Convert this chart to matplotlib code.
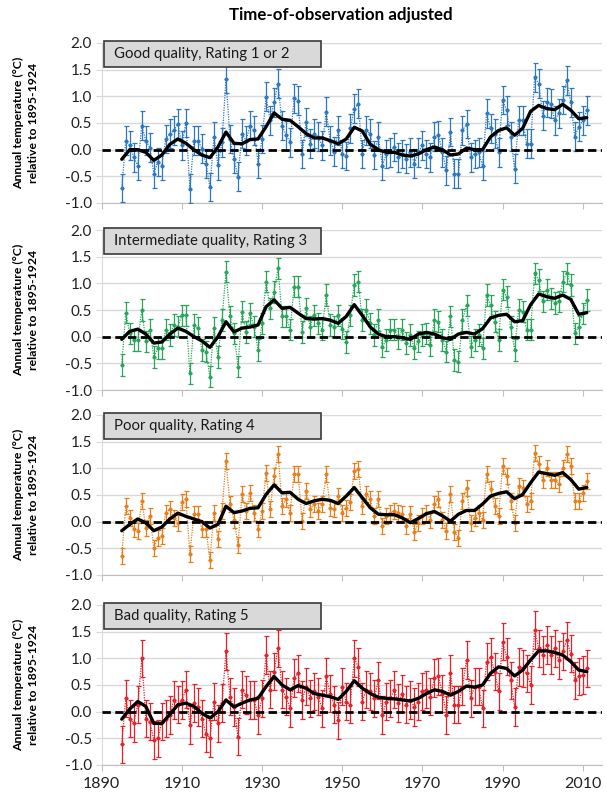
import matplotlib
matplotlib.use('Agg')
import matplotlib.pyplot as plt
from matplotlib.patches import Rectangle

plt.rcParams['font.family'] = ['Lato', 'DejaVu Sans']

years = list(range(1895, 2012))
smooth_years = list(range(1895, 2012, 2))
x_ticks = [1890, 1910, 1930, 1950, 1970, 1990, 2010]
y_ticks = [-1.0, -0.5, 0.0, 0.5, 1.0, 1.5, 2.0]

good = [-0.72, 0.17, 0.08, -0.14, -0.30,
        0.45, 0.17, 0.04, -0.45, -0.23, -0.30, 0.20, 0.30, 0.36, 0.49,
        0.08, 0.50, -0.73, 0.17, 0.17, 0.02, -0.26, -0.70, 0.24, -0.29,
        0.14, 1.33, 0.20, -0.17, -0.51, 0.30, 0.17, 0.45, 0.36, -0.26,
        0.20, 0.99, 0.55, 0.89, 1.24, 0.45, 0.27, 0.14, 0.96, 0.92,
        -0.08, 0.52, 0.11, 0.30, 0.24, 0.08, 0.71, 0.17, -0.04, 0.36,
        -0.08, -0.12, 0.40, 0.77, 0.86, -0.08, 0.36, 0.30, -0.10, 0.24,
        -0.30, -0.08, -0.05, 0.05, -0.14, -0.08, -0.17, -0.05, -0.26, -0.05,
        0.08, -0.08, -0.14, 0.24, 0.27, -0.05, -0.39, 0.33, -0.45, -0.45,
        0.36, 0.48, -0.14, -0.08, -0.05, -0.30, 0.68, 0.40, 0.30, -0.05,
        0.93, 0.74, 0.24, -0.36, 0.55, 0.55, 0.11, 0.11, 1.36, 1.24,
        0.64, 0.89, 0.86, 0.55, 0.68, 0.93, 1.30, 0.89, 0.24, 0.43,
        0.55, 0.74]
good_smooth = [-0.18, 0.0, 0.0,
               -0.05, -0.2, -0.1, 0.1, 0.2,
               0.12, 0.0, -0.1, -0.15, 0.05,
               0.33, 0.12, 0.11, 0.19, 0.2,
               0.43, 0.69, 0.57, 0.55, 0.43,
               0.3, 0.22, 0.22, 0.17, 0.11,
               0.2, 0.42, 0.35, 0.1, 0.0,
               -0.05, -0.05, -0.1, -0.12, -0.08,
               0.0, 0.05, 0.0, -0.1, -0.08,
               0.03, 0.0, 0.0, 0.24, 0.36,
               0.41, 0.27, 0.4, 0.72, 0.83,
               0.77, 0.75, 0.85, 0.74, 0.58,
               0.6]
good_err = 0.27

inter = [-0.53, 0.45, 0.06, -0.06, -0.06,
         0.50, -0.09, 0.13, -0.38, -0.22, -0.22, 0.13, 0.03, 0.22, 0.19,
         0.40, 0.40, -0.69, 0.22, 0.16, -0.25, -0.28, -0.75, 0.16, -0.38,
         0.31, 1.22, 0.38, 0.06, -0.56, 0.47, 0.09, 0.44, 0.19, -0.25,
         0.25, 1.03, 0.53, 0.84, 1.28, 0.38, 0.38, 0.13, 0.94, 0.94,
         0.09, 0.53, 0.19, 0.40, 0.25, 0.13, 0.78, 0.22, 0.19, 0.40,
         0.15, -0.10, 0.40, 0.97, 1.03, 0.31, 0.50, 0.25, 0.03, 0.31,
         -0.19, -0.06, 0.13, 0.13, -0.03, 0.13, -0.12, 0.03, -0.22, -0.09,
         0.03, 0.06, -0.16, 0.31, 0.28, -0.06, -0.28, 0.38, -0.44, -0.47,
         0.31, 0.59, -0.19, -0.06, 0.03, -0.22, 0.78, 0.59, 0.28, -0.06,
         0.88, 0.75, 0.19, -0.25, 0.50, 0.47, 0.13, 0.13, 1.19, 1.06,
         0.66, 0.88, 0.72, 0.63, 0.66, 1.03, 1.19, 0.97, 0.06, 0.19,
         0.44, 0.69]
inter_smooth = [-0.05, 0.1, 0.14,
                0.05, -0.12, -0.1, 0.05, 0.16,
                0.1, 0.0, -0.08, -0.2, 0.0,
                0.28, 0.09, 0.16, 0.18, 0.22,
                0.56, 0.69, 0.53, 0.55, 0.44,
                0.34, 0.33, 0.34, 0.31, 0.25,
                0.38, 0.6, 0.4, 0.18, 0.05,
                0.0, 0.0, -0.02, -0.05, 0.05,
                0.08, 0.05, -0.02, -0.05, 0.05,
                0.08, 0.05, 0.15, 0.35, 0.4,
                0.42, 0.28, 0.3, 0.6, 0.8,
                0.75, 0.72, 0.78, 0.7, 0.42,
                0.45]
inter_err = 0.2

poor = [-0.64, 0.29, 0.07, -0.14, -0.18,
        0.39, -0.11, 0.11, -0.49, -0.30, -0.27, 0.17, 0.23, 0.07, -0.02,
        0.36, 0.42, -0.61, 0.14, 0.14, -0.14, -0.14, -0.71, 0.17, -0.33,
        0.20, 1.14, 0.33, 0.04, -0.43, 0.51, 0.20, 0.54, 0.17, -0.14,
        0.20, 0.92, 0.23, 0.86, 1.26, 0.29, 0.42, 0.17, 0.89, 0.89,
        0.01, 0.58, 0.23, 0.33, 0.20, 0.33, 0.89, 0.26, 0.23, 0.48,
        0.17, 0.26, 0.36, 0.95, 0.98, 0.29, 0.51, 0.42, 0.11, 0.42,
        -0.08, 0.11, 0.17, 0.20, 0.17, 0.14, -0.08, 0.14, -0.20, -0.02,
        0.11, 0.17, 0.04, 0.33, 0.42, 0.04, -0.17, 0.51, -0.20, -0.30,
        0.39, 0.64, -0.02, 0.07, 0.17, 0.04, 0.89, 0.61, 0.29, 0.11,
        1.04, 0.86, 0.39, -0.02, 0.67, 0.64, 0.33, 0.39, 1.29, 1.08,
        0.79, 1.01, 0.79, 0.79, 0.70, 1.01, 1.26, 1.04, 0.39, 0.39,
        0.54, 0.76]
poor_smooth = [-0.17, -0.05, 0.05,
               -0.02, -0.17, -0.1, 0.05, 0.16,
               0.1, 0.05, 0.0, -0.12, -0.05,
               0.29, 0.17, 0.2, 0.25, 0.26,
               0.51, 0.69, 0.54, 0.55, 0.42,
               0.34, 0.39, 0.42, 0.4, 0.34,
               0.48, 0.64, 0.45, 0.26, 0.14,
               0.13, 0.13, 0.07, -0.02, 0.06,
               0.15, 0.19, 0.11, 0.01, 0.14,
               0.21, 0.21, 0.33, 0.48, 0.53,
               0.56, 0.43, 0.51, 0.73, 0.93,
               0.9, 0.87, 0.92, 0.79, 0.61,
               0.64]
poor_err = 0.15

bad = [-0.61, 0.25, -0.13, -0.22, 0.13,
       1.00, -0.13, -0.19, -0.53, -0.50, -0.19, -0.13, -0.06, 0.22, 0.13,
       0.22, 0.41, -0.25, 0.16, 0.09, -0.13, -0.41, -0.50, 0.19, -0.22,
       0.16, 1.13, 0.28, 0.09, -0.47, 0.41, 0.31, 0.22, 0.22, -0.06,
       0.25, 1.06, 0.41, 0.75, 1.19, 0.41, 0.28, 0.06, 0.63, 0.72,
       0.22, 0.47, 0.25, 0.38, 0.28, 0.06, 0.66, 0.34, 0.13, -0.16,
       0.47, 0.19, 0.13, 1.00, 0.84, 0.19, 0.41, 0.38, 0.25, 0.59,
       -0.06, 0.19, 0.25, 0.41, 0.16, 0.34, 0.13, 0.22, 0.09, 0.19,
       0.38, 0.41, 0.28, 0.63, 0.66, 0.34, -0.06, 0.72, 0.13, 0.13,
       0.47, 0.97, 0.25, 0.47, 0.47, 0.06, 0.94, 1.03, 0.75, 0.38,
       1.31, 1.03, 0.59, 0.09, 0.84, 0.81, 0.72, 0.50, 1.53, 1.19,
       1.06, 1.25, 1.06, 1.19, 0.97, 1.13, 1.34, 1.09, 0.59, 0.66,
       0.69, 0.81]
bad_smooth = [-0.14, 0.05, 0.19,
              0.1, -0.22, -0.22, -0.05, 0.13,
              0.16, 0.1, -0.03, -0.12, 0.0,
              0.22, 0.09, 0.16, 0.22, 0.25,
              0.47, 0.66, 0.5, 0.41, 0.49,
              0.44, 0.34, 0.31, 0.28, 0.23,
              0.38, 0.58, 0.44, 0.34, 0.27,
              0.25, 0.24, 0.22, 0.2, 0.25,
              0.34, 0.41, 0.38, 0.31, 0.38,
              0.48, 0.46, 0.5, 0.72, 0.84,
              0.81, 0.67, 0.78, 0.97, 1.14,
              1.14, 1.11, 1.06, 0.94, 0.78,
              0.75]
bad_err = 0.35

panels = [
    ("Good quality, Rating 1 or 2", good, good_smooth, good_err, '#2E78BE'),
    ("Intermediate quality, Rating 3", inter, inter_smooth, inter_err, '#2AA65C'),
    ("Poor quality, Rating 4", poor, poor_smooth, poor_err, '#E6801F'),
    ("Bad quality, Rating 5", bad, bad_smooth, bad_err, '#E3242B'),
]

W, H = 607, 801
fig = plt.figure(figsize=(W / 100, H / 100), dpi=100)
fig.text(341 / W, 1 - 15 / H, "Time-of-observation adjusted", ha='center',
         va='center', fontweight='bold', fontsize=12.2)

tops = [43, 230, 415, 605]
ax_h = 160
left, right = 101.7, 602

for i, (label, vals, sm, err, col) in enumerate(panels):
    top = tops[i]
    ax = fig.add_axes([left / W, 1 - (top + ax_h) / H, (right - left) / W, ax_h / H])
    ax.set_xlim(1890, 2014.8)
    ax.set_ylim(-1.0, 2.0)
    ax.set_yticks(y_ticks)
    ax.set_yticklabels([f"{v:.1f}" for v in y_ticks])
    ax.set_xticks(x_ticks)
    ax.grid(axis='y', color='#D9D9D9', lw=1)
    ax.set_axisbelow(True)
    for s in ['top', 'right']:
        ax.spines[s].set_visible(False)
    ax.spines['left'].set_color('#D9D9D9')
    ax.spines['bottom'].set_color('#BFBFBF')
    ax.tick_params(axis='y', length=4, color='#D9D9D9', labelsize=11, labelcolor='#222222', pad=3)
    ax.tick_params(axis='x', length=4, color='#BFBFBF', labelsize=11.5, labelcolor='#222222', pad=5)
    if i < 3:
        ax.tick_params(axis='x', labelbottom=False)

    ax.plot(years, vals, linestyle=(0, (1, 1)), color=col, lw=0.9, zorder=2)
    ax.errorbar(years, vals, yerr=err, fmt='D', ms=1.7, color=col, ecolor=col,
                elinewidth=0.9, capsize=1.8, capthick=0.9, zorder=3)
    ax.axhline(0, color='black', lw=2, ls=(0, (3, 1.6)), zorder=4)
    ax.plot(smooth_years, sm, color='black', lw=2.4, solid_joinstyle='round',
            solid_capstyle='round', zorder=5)

    ax.add_patch(Rectangle((0.004, 0.847), 0.434, 0.166, transform=ax.transAxes,
                           facecolor='#D9D9D9', edgecolor='#3A3A3A', lw=1.2,
                           clip_on=False, zorder=6))
    ax.text(0.024, 0.93, label, transform=ax.transAxes, ha='left', va='center',
            fontsize=10.7, color='#1A1A1A', zorder=7)

    ax.text(-0.152, 0.5, "Annual temperature (°C)\nrelative to 1895-1924",
            transform=ax.transAxes, rotation=90, ha='center', va='center',
            fontweight='bold', fontsize=8.8, linespacing=1.45)

fig.savefig('out.png', dpi=100)
